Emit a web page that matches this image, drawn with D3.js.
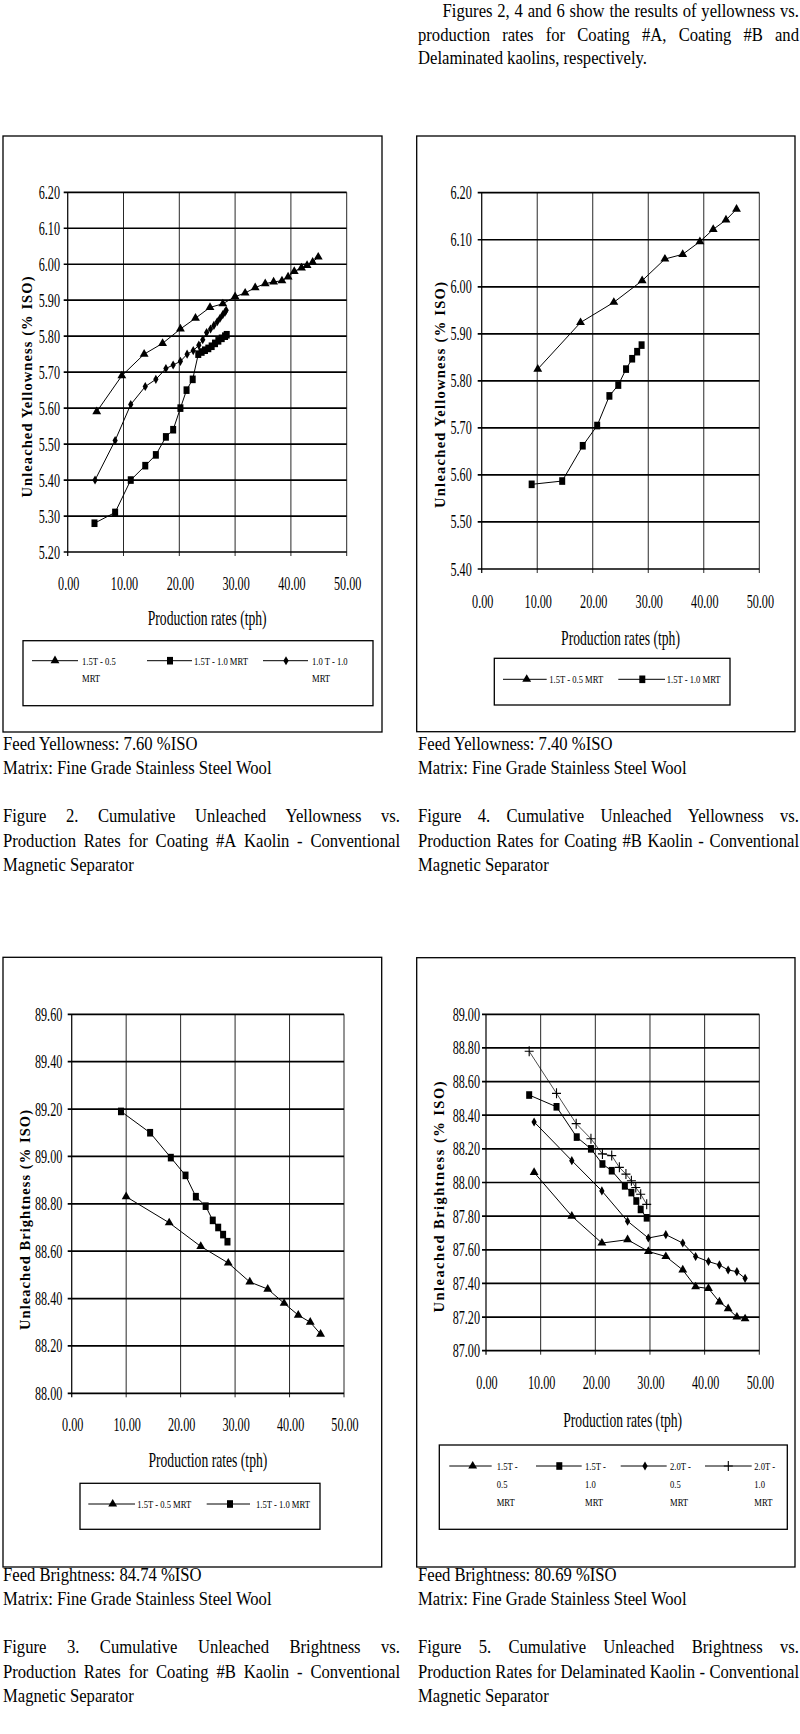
<!DOCTYPE html>
<html><head><meta charset="utf-8">
<script src="https://cdn.jsdelivr.net/npm/d3@7"></script>
<style>body{margin:0;background:#fff}svg{display:block}</style>
</head><body>
<svg id="page" width="800" height="1734"></svg>
<script>
// ================= DATA =================
const xTicks = [0, 10, 20, 30, 40, 50];
const fig2YTicks = [5.20, 5.30, 5.40, 5.50, 5.60, 5.70, 5.80, 5.90, 6.00, 6.10, 6.20];
const fig4YTicks = [5.40, 5.50, 5.60, 5.70, 5.80, 5.90, 6.00, 6.10, 6.20];
const fig3YTicks = [88.00, 88.20, 88.40, 88.60, 88.80, 89.00, 89.20, 89.40, 89.60];
const fig5YTicks = [87.00, 87.20, 87.40, 87.60, 87.80, 88.00, 88.20, 88.40, 88.60, 88.80, 89.00];

// Figure 2 - Coating #A yellowness
const fig2_15T05_x = [5.2, 9.7, 13.7, 17.0, 20.2, 22.9, 25.5, 27.8, 30.0, 31.8, 33.6, 35.4, 36.9, 38.4, 39.5, 40.6, 41.9, 42.9, 43.9, 44.9];
const fig2_15T05_y = [5.59, 5.69, 5.75, 5.78, 5.82, 5.85, 5.88, 5.89, 5.91, 5.92, 5.935, 5.946, 5.951, 5.954, 5.965, 5.98, 5.99, 5.997, 6.006, 6.02];
const fig2_15T10_x = [4.8, 8.5, 11.3, 13.9, 15.8, 17.6, 18.9, 20.2, 21.3, 22.4, 23.4, 24.0, 24.6, 25.2, 25.8, 26.4, 27.0, 27.6, 28.2, 28.5];
const fig2_15T10_y = [5.28, 5.31, 5.40, 5.44, 5.47, 5.52, 5.54, 5.60, 5.65, 5.68, 5.75, 5.756, 5.761, 5.766, 5.772, 5.78, 5.787, 5.794, 5.80, 5.804];
const fig2_10T10_x = [4.9, 8.5, 11.3, 13.9, 15.8, 17.6, 18.9, 20.2, 21.4, 22.5, 23.5, 24.2, 24.9, 25.6, 26.2, 26.8, 27.3, 27.8, 28.2, 28.4];
const fig2_10T10_y = [5.40, 5.51, 5.61, 5.66, 5.68, 5.71, 5.72, 5.73, 5.75, 5.76, 5.775, 5.79, 5.81, 5.82, 5.83, 5.84, 5.85, 5.86, 5.867, 5.872];

// Figure 4 - Coating #B yellowness
const fig4_15T05_x = [10.1, 17.8, 23.8, 28.9, 33.0, 36.2, 39.3, 41.7, 44.0, 45.9];
const fig4_15T05_y = [5.825, 5.924, 5.967, 6.013, 6.059, 6.069, 6.096, 6.122, 6.142, 6.165];
const fig4_15T10_x = [9.0, 14.5, 18.2, 20.8, 23.0, 24.6, 26.0, 27.1, 28.0, 28.8];
const fig4_15T10_y = [5.58, 5.587, 5.662, 5.705, 5.768, 5.791, 5.825, 5.847, 5.862, 5.876];

// Figure 3 - Coating #B brightness
const fig3_15T05_x = [10.0, 17.9, 23.7, 28.75, 32.7, 36.0, 39.0, 41.6, 43.8, 45.7];
const fig3_15T05_y = [88.83, 88.72, 88.62, 88.55, 88.47, 88.44, 88.38, 88.33, 88.30, 88.25];
const fig3_15T10_x = [9.05, 14.4, 18.2, 20.9, 22.8, 24.6, 25.9, 26.9, 27.8, 28.6];
const fig3_15T10_y = [89.19, 89.10, 88.995, 88.92, 88.83, 88.79, 88.73, 88.70, 88.67, 88.64];

// Figure 5 - Delaminated brightness
const fig5_15T05_x = [8.8, 15.7, 21.2, 25.9, 29.7, 32.9, 36.0, 38.35, 40.7, 42.7, 44.3, 45.9, 47.4];
const fig5_15T05_y = [88.06, 87.80, 87.64, 87.66, 87.59, 87.56, 87.48, 87.38, 87.37, 87.29, 87.25, 87.20, 87.19];
const fig5_15T10_x = [7.9, 12.9, 16.6, 19.2, 21.3, 23.0, 25.4, 26.6, 27.5, 28.3, 29.4];
const fig5_15T10_y = [88.52, 88.45, 88.27, 88.20, 88.11, 88.07, 87.98, 87.94, 87.89, 87.84, 87.79];
const fig5_20T05_x = [8.8, 15.7, 21.2, 25.9, 29.7, 32.9, 36.0, 38.35, 40.7, 42.7, 44.3, 45.9, 47.4];
const fig5_20T05_y = [88.36, 88.13, 87.95, 87.77, 87.67, 87.69, 87.64, 87.56, 87.53, 87.51, 87.48, 87.47, 87.43];
const fig5_20T10_x = [7.9, 12.9, 16.5, 19.2, 21.3, 23.0, 24.4, 25.6, 26.6, 27.4, 28.3, 29.4];
const fig5_20T10_y = [88.78, 88.53, 88.35, 88.26, 88.17, 88.16, 88.09, 88.05, 88.01, 87.97, 87.93, 87.87];

// ================= DRAWING =================
const svg = d3.select('#page');
const FONT = "'Liberation Serif','Times New Roman',serif";
const fmt = d3.format('.2f');

function stext(g, str, x, y, o = {}) {
  return g.append('text')
    .attr('transform', `translate(${x},${y}) scale(${o.sx || 1},1)`)
    .attr('font-family', FONT)
    .attr('font-size', o.fs || 18)
    .attr('font-weight', o.fw || 'normal')
    .attr('text-anchor', o.anchor || 'start')
    .attr('fill', '#000')
    .text(str);
}
function fitText(g, str, cx, y, width, fs, fw) {
  const t = stext(g, str, cx, y, {fs: fs, anchor: 'middle', fw: fw});
  const w = t.node().getComputedTextLength();
  t.attr('transform', `translate(${cx},${y}) scale(${width / w},1)`);
  return t;
}
const BODY_FS = 18.5, BODY_SX = 0.9;
function bodyLine(str, x, y) { stext(svg, str, x, y, {fs: BODY_FS, sx: BODY_SX}); }
function justLine(str, x0, x1, y) {
  const words = str.split(' ');
  const nodes = words.map(w => stext(svg, w, 0, y, {fs: BODY_FS, sx: BODY_SX}));
  const widths = nodes.map(n => n.node().getComputedTextLength() * BODY_SX);
  const gap = (x1 - x0 - d3.sum(widths)) / (words.length - 1);
  let x = x0;
  nodes.forEach((n, i) => { n.attr('transform', `translate(${x},${y}) scale(${BODY_SX},1)`); x += widths[i] + gap; });
}

function marker(g, shape, cx, cy) {
  if (shape === 'tri') {
    g.append('path').attr('d', d3.symbol(d3.symbolTriangle, 34)()).attr('transform', `translate(${cx},${cy})`).attr('fill', '#000');
  } else if (shape === 'sq') {
    g.append('rect').attr('x', cx - 3).attr('y', cy - 3.8).attr('width', 6).attr('height', 7.6).attr('fill', '#000');
  } else if (shape === 'dia') {
    g.append('path').attr('d', d3.symbol(d3.symbolDiamond, 24)()).attr('transform', `translate(${cx},${cy})`).attr('fill', '#000');
  } else if (shape === 'plus') {
    g.append('path').attr('d', `M${cx - 4.5},${cy}H${cx + 4.5}M${cx},${cy - 5}V${cy + 5}`).attr('stroke', '#000').attr('stroke-width', 1.1).attr('fill', 'none');
  }
}

function drawChart(c) {
  const g = svg.append('g');
  g.append('rect').attr('x', c.box[0]).attr('y', c.box[1])
    .attr('width', c.box[2] - c.box[0]).attr('height', c.box[3] - c.box[1])
    .attr('fill', 'none').attr('stroke', '#000').attr('stroke-width', 1.3);
  const x = d3.scaleLinear().domain([0, 50]).range([c.px0, c.px1]);
  const y = d3.scaleLinear().domain([c.yTicks[0], c.yTicks[c.yTicks.length - 1]]).range([c.py1, c.py0]);
  // vertical gridlines
  xTicks.forEach(v => {
    g.append('line').attr('x1', x(v)).attr('x2', x(v)).attr('y1', c.py0).attr('y2', c.py1 + 4)
      .attr('stroke', '#111').attr('stroke-width', v === 0 ? 1.3 : 0.9);
  });
  // horizontal gridlines
  c.yTicks.forEach(v => {
    g.append('line').attr('x1', c.px0 - 4).attr('x2', c.px1).attr('y1', y(v)).attr('y2', y(v))
      .attr('stroke', '#000').attr('stroke-width', 1.7);
  });
  // tick labels
  c.yTicks.forEach(v => stext(g, fmt(v), c.yLabR, y(v) + 6.5, {fs: 19, sx: 0.64, anchor: 'end'}));
  xTicks.forEach(v => stext(g, fmt(v), x(v) + 1, c.xLabY + 6.5, {fs: 19, sx: 0.64, anchor: 'middle'}));
  // titles
  fitText(g, 'Production rates (tph)', (c.px0 + c.px1) / 2, c.xTitleY + 7, 119, 20);
  g.append('text')
    .attr('transform', `translate(${c.yTitleX + 5},${c.yTitleY}) rotate(-90)`)
    .attr('font-family', FONT).attr('font-size', 14.5).attr('font-weight', 'bold')
    .attr('text-anchor', 'middle').attr('textLength', c.yTitleLen).attr('lengthAdjust', 'spacing')
    .text(c.yTitle);
  // series
  const line = d3.line().x(d => x(d[0])).y(d => y(d[1]));
  c.series.forEach(s => {
    const pts = s.xs.map((v, i) => [v, s.ys[i]]);
    g.append('path').attr('d', line(pts)).attr('fill', 'none').attr('stroke', '#000').attr('stroke-width', s.sw || 1);
  });
  c.series.forEach(s => {
    s.xs.forEach((v, i) => marker(g, s.shape, x(v), y(s.ys[i])));
  });
  // legend
  const L = c.legend;
  g.append('rect').attr('x', L.box[0]).attr('y', L.box[1]).attr('width', L.box[2] - L.box[0]).attr('height', L.box[3] - L.box[1])
    .attr('fill', 'none').attr('stroke', '#000').attr('stroke-width', 1.3);
  L.items.forEach((it, i) => {
    const s = c.series[i];
    g.append('line').attr('x1', it[0]).attr('x2', it[1]).attr('y1', L.y).attr('y2', L.y).attr('stroke', '#000').attr('stroke-width', 1);
    marker(g, s.shape, it[2], L.y);
    s.label.forEach((ln, k) => stext(g, ln, it[3], L.y + 4 + k * L.dy, {fs: 11, sx: 0.78}));
  });
}

// Figure 2
drawChart({
  box: [3, 136, 382, 732], px0: 67.7, px1: 346.7, py0: 192.3, py1: 552,
  yTicks: fig2YTicks, yLabR: 60, xLabY: 583, xTitleY: 618,
  yTitle: 'Unleached Yellowness (% ISO)', yTitleX: 27, yTitleY: 387, yTitleLen: 221,
  series: [
    {xs: fig2_15T05_x, ys: fig2_15T05_y, shape: 'tri', label: ['1.5T - 0.5', 'MRT']},
    {xs: fig2_15T10_x, ys: fig2_15T10_y, shape: 'sq', label: ['1.5T - 1.0 MRT']},
    {xs: fig2_10T10_x, ys: fig2_10T10_y, shape: 'dia', label: ['1.0 T - 1.0', 'MRT']}
  ],
  legend: {box: [23, 640.7, 373, 705.7], y: 660.7, dy: 17,
    items: [[32, 78, 55, 82], [147, 192, 170, 194], [263, 308, 286, 312]]}
});

// Figure 4
drawChart({
  box: [416.7, 136, 795, 731.7], px0: 481.7, px1: 759.3, py0: 192.7, py1: 569,
  yTicks: fig4YTicks, yLabR: 471.7, xLabY: 601.7, xTitleY: 638.3,
  yTitle: 'Unleached Yellowness (% ISO)', yTitleX: 440, yTitleY: 395, yTitleLen: 226,
  series: [
    {xs: fig4_15T05_x, ys: fig4_15T05_y, shape: 'tri', label: ['1.5T - 0.5 MRT']},
    {xs: fig4_15T10_x, ys: fig4_15T10_y, shape: 'sq', label: ['1.5T - 1.0 MRT']}
  ],
  legend: {box: [494.3, 658.3, 730, 705], y: 679.3, dy: 17,
    items: [[503, 546.7, 526.7, 549.3], [618.3, 665, 642.3, 666.7]]}
});

// Figure 3
drawChart({
  box: [3, 957.3, 381.7, 1567], px0: 71.7, px1: 344, py0: 1014.3, py1: 1393.3,
  yTicks: fig3YTicks, yLabR: 62.3, xLabY: 1424, xTitleY: 1460,
  yTitle: 'Unleached Brightness (% ISO)', yTitleX: 25, yTitleY: 1220, yTitleLen: 220,
  series: [
    {xs: fig3_15T05_x, ys: fig3_15T05_y, shape: 'tri', label: ['1.5T - 0.5 MRT']},
    {xs: fig3_15T10_x, ys: fig3_15T10_y, shape: 'sq', label: ['1.5T - 1.0 MRT']}
  ],
  legend: {box: [80, 1483.3, 320, 1529.3], y: 1504, dy: 17,
    items: [[88.3, 135, 112.7, 137.3], [206.7, 250, 230, 256]]}
});

// Figure 5
drawChart({
  box: [416.7, 957.7, 795, 1567], px0: 486, px1: 759.3, py0: 1014.3, py1: 1350.7,
  yTicks: fig5YTicks, yLabR: 480, xLabY: 1382.7, xTitleY: 1420,
  yTitle: 'Unleached Brightness (% ISO)', yTitleX: 439.3, yTitleY: 1197, yTitleLen: 231,
  series: [
    {xs: fig5_15T05_x, ys: fig5_15T05_y, shape: 'tri', label: ['1.5T -', '0.5', 'MRT']},
    {xs: fig5_15T10_x, ys: fig5_15T10_y, shape: 'sq', label: ['1.5T -', '1.0', 'MRT']},
    {xs: fig5_20T05_x, ys: fig5_20T05_y, shape: 'dia', label: ['2.0T -', '0.5', 'MRT']},
    {xs: fig5_20T10_x, ys: fig5_20T10_y, shape: 'plus', sw: 0.7, label: ['2.0T -', '1.0', 'MRT']}
  ],
  legend: {box: [439.3, 1445, 787.3, 1529.3], y: 1466, dy: 17.8,
    items: [[449.3, 491.7, 472.7, 496.7], [536, 581.7, 559.3, 585], [620.7, 666.7, 645, 670], [705, 751.7, 728.3, 754.3]]}
});

// ================= BODY TEXT =================
justLine('Figures 2, 4 and 6 show the results of yellowness vs.', 442.6, 799, 17);
justLine('production rates for Coating #A, Coating #B and', 418, 799, 40.5);
bodyLine('Delaminated kaolins, respectively.', 418, 64);

function captionBlock(x0, x1, yTop, feed, fig, prod) {
  bodyLine(feed, x0, yTop);
  bodyLine('Matrix: Fine Grade Stainless Steel Wool', x0, yTop + 24.4);
  justLine(fig, x0, x1, yTop + 72);
  justLine(prod, x0, x1, yTop + 97.4);
  bodyLine('Magnetic Separator', x0, yTop + 121.7);
}
captionBlock(3, 400, 749.6, 'Feed Yellowness: 7.60 %ISO', 'Figure 2. Cumulative Unleached Yellowness vs.', 'Production Rates for Coating #A Kaolin - Conventional');
captionBlock(418, 799, 749.6, 'Feed Yellowness: 7.40 %ISO', 'Figure 4. Cumulative Unleached Yellowness vs.', 'Production Rates for Coating #B Kaolin - Conventional');
captionBlock(3, 400, 1580.6, 'Feed Brightness: 84.74 %ISO', 'Figure 3. Cumulative Unleached Brightness vs.', 'Production Rates for Coating #B Kaolin - Conventional');
captionBlock(418, 799, 1580.6, 'Feed Brightness: 80.69 %ISO', 'Figure 5. Cumulative Unleached Brightness vs.', 'Production Rates for Delaminated Kaolin - Conventional');
</script>
</body></html>
